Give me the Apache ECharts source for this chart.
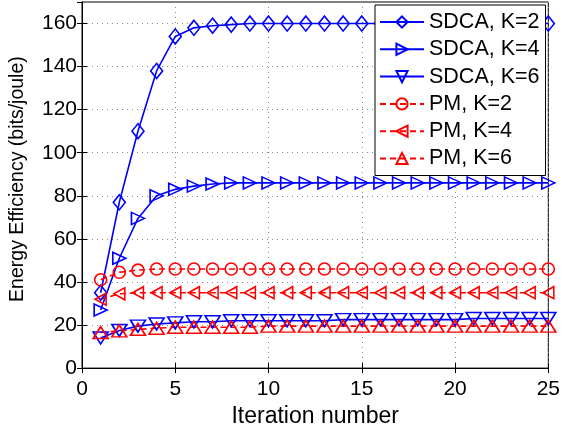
<!DOCTYPE html>
<html>
<head>
<meta charset="utf-8">
<script src="https://cdn.jsdelivr.net/npm/echarts@6/dist/echarts.min.js"></script>
<style>
  html, body { margin: 0; padding: 0; background: #fff; }
  #chart { width: 563px; height: 433px; }
</style>
</head>
<body>
<div id="chart"></div>
<script>
var iterations = [1, 2, 3, 4, 5, 6, 7, 8, 9, 10, 11, 12, 13, 14, 15, 16, 17, 18, 19, 20, 21, 22, 23, 24, 25];
var sdcaK2 = [35, 77, 110, 138, 154, 158, 159, 159.5, 160, 160, 160, 160, 160, 160, 160, 160, 160, 160, 160, 160, 160, 160, 160, 160, 160];
var sdcaK4 = [27, 51, 69.5, 80, 83, 84.5, 85.5, 86, 86, 86, 86, 86, 86, 86, 86, 86, 86, 86, 86, 86, 86, 86, 86, 86, 86];
var sdcaK6 = [14, 17.5, 19.5, 20.5, 21, 21.5, 21.5, 22, 22, 22, 22, 22, 22, 22.5, 22.5, 22.5, 22.5, 22.5, 22.5, 22.5, 23, 23, 23, 23, 23];
var pmK2 = [41, 44.5, 45.5, 46, 46, 46, 46, 46, 46, 46, 46, 46, 46, 46, 46, 46, 46, 46, 46, 46, 46, 46, 46, 46, 46];
var pmK4 = [32, 34.5, 35, 35, 35, 35, 35, 35, 35, 35, 35, 35, 35, 35, 35, 35, 35, 35, 35, 35, 35, 35, 35, 35, 35];
var pmK6 = [16.5, 17.3, 18, 18.5, 19, 19, 19, 19, 19, 19.5, 19.5, 19.5, 19.5, 19.5, 19.5, 19.5, 19.5, 19.5, 19.5, 19.5, 19.5, 19.5, 19.5, 19.5, 19.5];
var xTicks = [0, 5, 10, 15, 20, 25];
var yTicks = [0, 20, 40, 60, 80, 100, 120, 140, 160];

var BLUE = '#0000ff', RED = '#ff0000';
var FONT = 'Liberation Sans';

function pairs(vals) {
    return iterations.map(function (x, i) { return [x, vals[i]]; });
}

function makeSeries(name, vals, color, symbol, rotate, size, dashed) {
    return {
        name: name,
        type: 'line',
        data: pairs(vals),
        symbol: symbol,
        symbolSize: size,
        symbolRotate: rotate,
        showAllSymbol: true,
        animation: false,
        lineStyle: { color: color, width: 1.6, type: dashed ? [6, 4] : 'solid' },
        itemStyle: { color: 'rgba(0,0,0,0)', borderColor: color, borderWidth: 1.6 }
    };
}

var chart = echarts.init(document.getElementById('chart'));
var option = {
    backgroundColor: '#fff',
    textStyle: { fontFamily: FONT },
    grid: {
        left: 80, right: 11, top: 2, bottom: 60,
        show: true, borderColor: '#000', borderWidth: 1, backgroundColor: '#fff'
    },
    legend: {
        orient: 'vertical',
        left: 375, top: 5,
        padding: [6, 6, 6, 4],
        itemGap: 5.3,
        itemWidth: 44,
        itemHeight: 14,
        backgroundColor: '#fff',
        borderColor: '#000',
        borderWidth: 1,
        borderRadius: 0,
        textStyle: { fontSize: 21.5, color: '#000', fontFamily: FONT },
        data: ['SDCA, K=2', 'SDCA, K=4', 'SDCA, K=6', 'PM, K=2', 'PM, K=4', 'PM, K=6']
    },
    xAxis: [{
        type: 'value', min: xTicks[0], max: xTicks[xTicks.length - 1], interval: 5,
        name: 'Iteration number', nameLocation: 'middle', nameGap: 28,
        nameTextStyle: { fontSize: 23, color: '#000', fontFamily: FONT },
        axisLine: { lineStyle: { color: '#000' } },
        axisTick: { inside: true, length: 5, lineStyle: { color: '#000' } },
        axisLabel: { fontSize: 21, color: '#000', margin: 11, fontFamily: FONT },
        splitLine: { show: true, lineStyle: { color: '#888', type: [1, 4] } }
    }, {
        type: 'value', position: 'top', min: 0, max: 25, interval: 5,
        axisLine: { lineStyle: { color: '#000' } },
        axisTick: { inside: true, length: 5, lineStyle: { color: '#000' } },
        axisLabel: { show: false }, splitLine: { show: false }
    }],
    yAxis: [{
        type: 'value', min: yTicks[0], max: 170, interval: 20,
        name: 'Energy Efficiency (bits/joule)', nameLocation: 'middle', nameGap: 54,
        nameTextStyle: { fontSize: 19.5, color: '#000', fontFamily: FONT, padding: [0, 0, 0, 12] },
        axisLine: { show: true, lineStyle: { color: '#000' } },
        axisTick: { show: true, inside: true, length: 5, lineStyle: { color: '#000' } },
        axisLabel: { fontSize: 21, color: '#000', margin: 5, showMaxLabel: false, fontFamily: FONT },
        splitLine: { show: true, lineStyle: { color: '#888', type: [1, 4] } }
    }, {
        type: 'value', position: 'right', min: 0, max: 170, interval: 20,
        axisLine: { show: true, lineStyle: { color: '#000' } },
        axisTick: { show: true, inside: true, length: 5, lineStyle: { color: '#000' } },
        axisLabel: { show: false }, splitLine: { show: false }
    }],
    series: [
        makeSeries('SDCA, K=2', sdcaK2, BLUE, 'diamond', 0, [12, 15], false),
        makeSeries('SDCA, K=4', sdcaK4, BLUE, 'triangle', -90, [12, 13], false),
        makeSeries('SDCA, K=6', sdcaK6, BLUE, 'triangle', 180, [15, 12], false),
        makeSeries('PM, K=2', pmK2, RED, 'circle', 0, 12, true),
        makeSeries('PM, K=4', pmK4, RED, 'triangle', 90, [12, 11], true),
        makeSeries('PM, K=6', pmK6, RED, 'triangle', 0, [15, 12], true)
    ]
};
chart.setOption(option);
window.addEventListener('resize', function () { chart.resize(); });
</script>
</body>
</html>
